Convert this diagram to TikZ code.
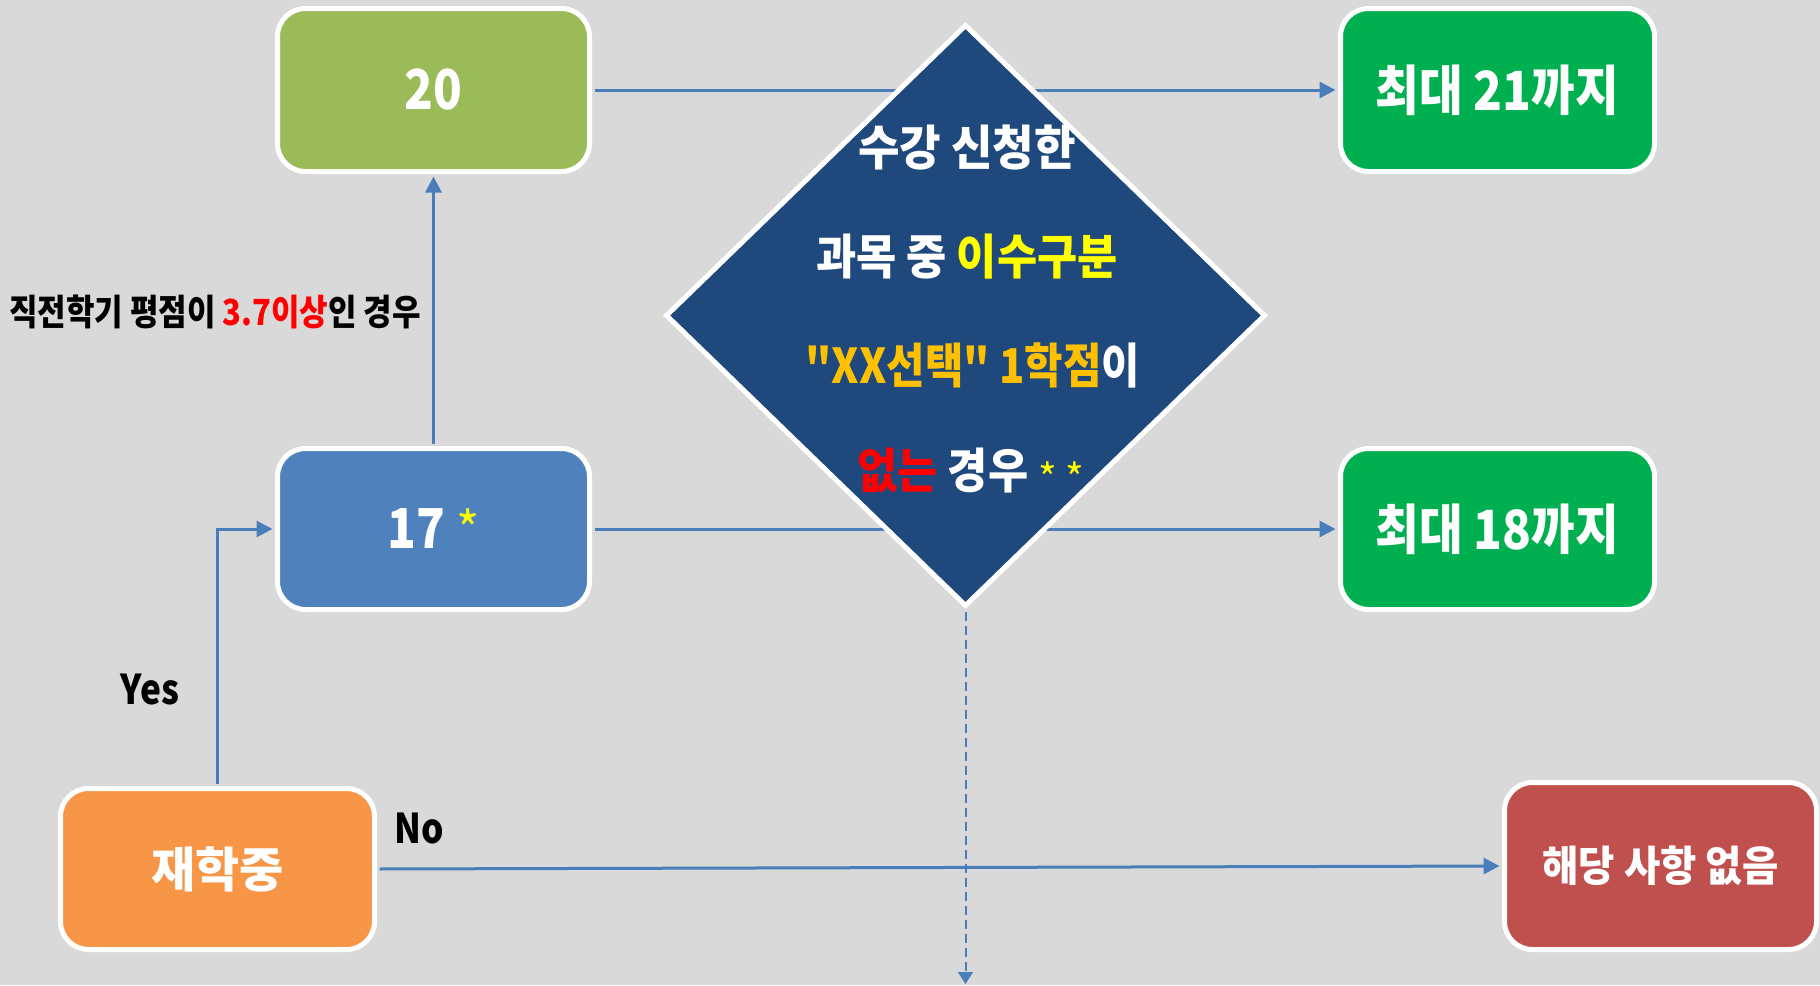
\documentclass[tikz,border=0pt]{standalone}
\usepackage{fontspec}
\usetikzlibrary{arrows.meta,shapes.geometric}
\newfontfamily\kfont{Noto Sans CJK KR}
\newcommand\kz[2]{\kfont\bfseries\addfontfeatures{FakeStretch=#2}\fontsize{#1pt}{#1pt}\selectfont}
\newcommand\kr[1]{\kfont\mdseries\fontsize{#1pt}{#1pt}\selectfont}
\definecolor{bgc}{HTML}{D9D9D9}
\definecolor{olivec}{HTML}{9BBB59}
\definecolor{bluec}{HTML}{4F81BD}
\definecolor{orangec}{HTML}{F79646}
\definecolor{greenc}{HTML}{00B050}
\definecolor{redboxc}{HTML}{C0504D}
\definecolor{dbluec}{HTML}{1F497D}
\definecolor{arrowc}{HTML}{4A7EBB}
\definecolor{goldc}{HTML}{FFC000}
\definecolor{yelc}{HTML}{FFFF00}
\definecolor{redc}{HTML}{FF0000}
\begin{document}
\begin{tikzpicture}[x=1pt,y=-1pt,
  box/.style={rectangle, rounded corners=28pt, draw=white, line width=5pt, inner sep=0pt, text=white},
  conn/.style={draw=arrowc, line width=3pt, shorten <=2.5pt, shorten >=2.5pt, -{Triangle[length=16pt,width=16pt]}},
  dashconn/.style={draw=arrowc, line width=2pt, dash pattern=on 9pt off 5pt, shorten <=3pt, -{Triangle[length=12pt,width=15pt]}},
  dtext/.style={inner sep=0pt, text=white},
  lbl/.style={inner sep=0pt, text=black}]
\fill[bgc] (0,0) rectangle (1820,985);
\useasboundingbox (0,0) rectangle (1820,985);
% boxes
\node[box, fill=olivec, minimum width=312pt, minimum height=163pt, font=\kz{55}{0.86}] (b20) at (433.5,90) {20};
\node[box, fill=bluec, minimum width=312pt, minimum height=161pt, font=\kz{55}{0.86}] (b17) at (433.5,529) {17 {\color{yelc}\kr{50}*}};
\node[box, fill=orangec, minimum width=314pt, minimum height=161pt, font=\kz{48}{1.0}] (bjae) at (217.5,869) {재학중};
\node[box, fill=greenc, minimum width=314pt, minimum height=163pt, font=\kz{54}{0.88}] (b21) at (1497.5,90) {최대 21까지};
\node[box, fill=greenc, minimum width=314pt, minimum height=161pt, font=\kz{54}{0.88}] (b18) at (1497.5,529) {최대 18까지};
\node[box, fill=redboxc, minimum width=312pt, minimum height=167pt, font=\kz{42}{0.94}] (bnone) at (1660.5,866) {해당 사항 없음};
% connectors
\draw[conn] (b20.east) -- (b21.west);
\draw[conn] (b17.east) -- (b18.west);
\draw[conn] (b17.north) -- (b20.south);
\draw[conn] (bjae.north) |- (b17.west);
\draw[conn] (bjae.east) -- (bnone.west);
% decision
\node[diamond, draw=white, line width=5pt, fill=dbluec, inner sep=0pt, minimum width=600pt, minimum height=582pt] (dia) at (965.5,315.5) {};
\coordinate (bot) at (965.5,984);
\draw[dashconn] (dia.south) -- (bot);
\node[dtext, font=\kz{48}{0.94}] (d1) at (967,148) {수강 신청한};
\node[dtext, font=\kz{48}{0.91}] (d2) at (967,257) {과목 중 {\color{yelc}이수구분}};
\node[dtext, font=\kz{48}{0.87}] (d3) at (973,365) {{\color{goldc}"XX선택" 1학점}이};
\node[dtext, font=\kz{48}{0.91}] (d4) at (971,471) {{\color{redc}없는} 경우 {\color{yelc}\kr{40}\raisebox{-5pt}{* *}}};
% labels
\node[lbl, font=\kz{36}{0.86}] (lgpa) at (215,312) {직전학기 평점이 {\color{redc}3.7이상}인 경우};
\node[lbl, font=\kz{41}{0.86}] (lyes) at (150,690) {Yes};
\node[lbl, font=\kz{41}{0.86}] (lno) at (419,829) {No};
\end{tikzpicture}
\end{document}
